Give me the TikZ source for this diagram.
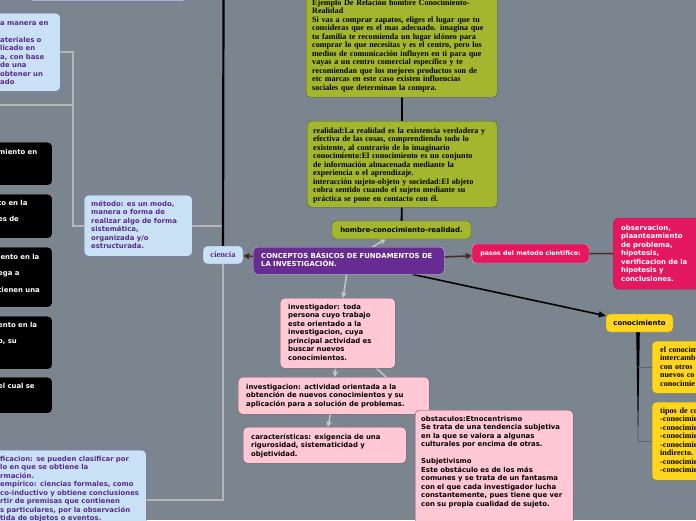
\documentclass[tikz,border=0pt]{standalone}
\usepackage{fontspec}
\setmainfont{Liberation Serif}
\setsansfont{DejaVu Sans}
\usetikzlibrary{arrows.meta}
\usepackage{xcolor}
\definecolor{slate}{HTML}{7A8590}
\definecolor{sky}{HTML}{C8E1F4}
\definecolor{lilacedge}{HTML}{8060B0}
\definecolor{grape}{HTML}{5E2A8C}
\definecolor{plum}{HTML}{672C91}
\definecolor{plumedge}{HTML}{C9B6E4}
\definecolor{moss}{HTML}{A3B62E}
\definecolor{mossedge}{HTML}{55621A}
\definecolor{berry}{HTML}{E3185E}
\definecolor{berryedge}{HTML}{F7A9C5}
\definecolor{blush}{HTML}{FFC8D4}
\definecolor{blushedge}{HTML}{6E4C55}
\definecolor{gold}{HTML}{FFD51E}
\definecolor{goldedge}{HTML}{A68A10}
\definecolor{treegray}{HTML}{B3B7BA}
\definecolor{arrowgray}{HTML}{C4C8CB}
\definecolor{umber}{HTML}{4A2A22}
\definecolor{twig}{HTML}{5B6570}
\newcommand\sanstext{\sffamily\bfseries\fontsize{6.9}{8.5}\selectfont}
\newcommand\sanswide{\sffamily\bfseries\fontsize{6.9}{16.7}\selectfont}
\newcommand\seriftext{\rmfamily\bfseries\fontsize{8.1}{8.5}\selectfont}
\pgfdeclarelayer{back}
\pgfsetlayers{back,main}

\begin{document}
\begin{tikzpicture}[x=1pt, y=-1pt,
    every node/.style={inner ysep=0pt, align=left},
    lightbox/.style={draw=lilacedge, fill=sky, rounded corners=4pt, text=grape, font=\sanstext},
    darkbox/.style={draw=gray!70, fill=black, rounded corners=4pt, text=white, font=\sanswide},
    olivebox/.style={draw=mossedge, fill=moss, rounded corners=4pt, font=\seriftext},
    pinkbox/.style={draw=blushedge, fill=blush, rounded corners=4pt, font=\sanstext},
    yellowbox/.style={draw=goldedge, fill=gold, rounded corners=4pt, font=\seriftext},
    treeline/.style={draw=treegray, line width=1.6pt},
    greyarrow/.style={draw=arrowgray, line width=1.4pt, -{Stealth[length=6pt,width=6pt]}},
    brownarrow/.style={draw=umber, line width=1.5pt, -{Triangle[length=6pt,width=6pt]}}]
  \useasboundingbox (0,0) rectangle (696,520);
  \begin{pgfonlayer}{back}
    \fill[slate] (0,0) rectangle (696,520);
  \end{pgfonlayer}

  % ciencia branch
  \node[lightbox, anchor=south west, minimum width=159pt, minimum height=14pt] (topbox) at (28,1) {};
  \node[lightbox, anchor=north west, inner xsep=4pt, text width=56pt, text height=12pt, text depth=66pt] (tecnica) at (-4,13) {a manera en\\\mbox{}\\ateriales o\\licado en\\a, con base\\de una\\obtener un\\ado};
  \node[darkbox, anchor=north west, inner xsep=4pt, text width=50pt, text height=12pt, text depth=31pt] (blka) at (-6,142) {miento en};
  \node[darkbox, anchor=north west, inner xsep=4pt, text width=50pt, text height=11pt, text depth=33pt] (blkb) at (-6,194) {to en la\\es de};
  \node[darkbox, anchor=north west, inner xsep=4pt, text width=50pt, text height=12pt, text depth=48pt] (blkc) at (-6,247) {iento en la\\ega a\\tienen una};
  \node[darkbox, anchor=north west, inner xsep=4pt, text width=50pt, text height=11pt, text depth=42pt] (blkd) at (-6,316) {ento en la\\o, su};
  \node[darkbox, anchor=north west, inner xsep=4pt, text width=50pt, text height=11pt, text depth=25pt] (blke) at (-6,377) {el cual se};
  \node[lightbox, anchor=north west, inner xsep=7pt, text width=94pt, text height=11pt, text depth=50pt] (metodo) at (84,195) {método: es un modo,\\manera o forma de\\realizar algo de forma\\sistemática,\\organizada y/o\\estructurada.};
  \node[lightbox, anchor=north west, inner xsep=4pt, text width=142pt, text height=11pt, text depth=89pt] (clasif) at (-4,450) {ficacion: se pueden clasificar por\\lo en que se obtiene la\\rmación.\\empírico: ciencias formales, como\\co-inductivo y obtiene conclusiones\\rtir de premisas que contienen\\s particulares, por la observación\\tida de objetos o eventos.};
  \node[lightbox, font=\rmfamily\bfseries\fontsize{8.5}{10}\selectfont, align=center, minimum width=40pt, minimum height=18pt] (ciencia) at (223,255) {ciencia};

  % centre
  \node[draw=plumedge, fill=plum, rounded corners=4pt, text=white, font=\sanstext, anchor=north west, inner xsep=8pt, text width=175pt, text height=11pt, text depth=16pt] (central) at (253,247) {CONCEPTOS BÁSICOS DE FUNDAMENTOS DE\\LA INVESTIGACIÓN.};

  % hombre-conocimiento-realidad
  \node[olivebox, font=\sanstext, align=center, minimum width=139pt, minimum height=18pt] (hombre) at (401.5,230) {hombre-conocimiento-realidad.};
  \node[olivebox, anchor=north west, inner xsep=6pt, text width=178pt, text height=12pt, text depth=74pt] (realidad) at (307,121) {realidad:La realidad es la existencia verdadera y\\efectiva de las cosas, comprendiendo todo lo\\existente, al contrario de lo imaginario\\conocimiento:El conocimiento es un conjunto\\de información almacenada mediante la\\experiencia o el aprendizaje.\\interacción sujeto-objeto y sociedad:El objeto\\cobra sentido cuando el sujeto mediante su\\práctica se pone en contacto con él.};
  \node[olivebox, anchor=north west, inner xsep=6pt, text width=179pt, text height=12pt, text depth=92pt] (ejemplo) at (306,-7) {Ejemplo De Relación hombre Conocimiento-\\Realidad\\Si vas a comprar zapatos, eliges el lugar que tu\\consideras que es el mas adecuado. imagina que\\tu familia te recomienda un lugar idóneo para\\comprar lo que  necesitas y es el centro, pero los\\medios de comunicación influyen en ti para que\\vayas a un centro comercial específico y te\\recomiendan que los mejores productos son de\\etc marcas en este caso existen influencias\\sociales que determinan la compra.};

  % metodo cientifico
  \node[draw=berryedge, fill=berry, rounded corners=4pt, text=white, font=\sffamily\bfseries\fontsize{6.3}{8}\selectfont, align=center, minimum width=117pt, minimum height=19pt] (pasos) at (530.5,253.5) {pasos del metodo cientifico:};
  \node[draw=berry!80!black, fill=berry, rounded corners=6pt, text=white, font=\sanstext, anchor=north west, inner xsep=8pt, text width=70pt, text height=12pt, text depth=59pt] (observ) at (613,218) {observacion,\\plaanteamiento\\de problema,\\hipotesis,\\verificacion de la\\hipotesis y\\conclusiones.};

  % conocimiento
  \node[yellowbox, font=\sanstext, align=center, minimum width=67pt, minimum height=18pt] (conoc) at (639.5,323) {conocimiento};
  \node[yellowbox, anchor=north west, inner xsep=8pt, text width=60pt, text height=11pt, text depth=41pt] (saberA) at (652,341) {el conocim\\intercamb\\con otros\\nuevos co\\conocimie};
  \node[yellowbox, anchor=north west, inner xsep=8pt, text width=60pt, text height=11pt, text depth=67pt] (saberB) at (652,402) {tipos de co\\-conocimie\\-conocimie\\-conocimie\\-conocimie\\indirecto.\\-conocimie\\-conocimie};

  % investigacion
  \node[pinkbox, anchor=north west, inner xsep=8pt, text width=99pt, text height=11pt, text depth=59pt] (investigador) at (280,298) {investigador: toda\\persona cuyo trabajo\\este orientado a la\\investigacion, cuya\\principal actividad es\\buscar nuevos\\conocimientos.};
  \node[pinkbox, anchor=north west, inner xsep=8pt, text width=175pt, text height=12pt, text depth=25pt] (investigacion) at (238,377) {investigacion: actividad orientada a la\\obtención de nuevos conocimientos y su\\aplicación para a solución de problemas.};
  \node[pinkbox, anchor=north west, inner xsep=8pt, text width=147pt, text height=12pt, text depth=24pt] (caracteristicas) at (243,427) {características: exigencia de una\\rigurosidad, sistematicidad y\\objetividad.};
  \node[pinkbox, anchor=north west, inner xsep=6pt, text width=146pt, text height=11pt, text depth=119pt] (obstaculos) at (415,410) {obstaculos:Etnocentrismo\\Se trata de una tendencia subjetiva\\en la que se valora a algunas\\culturales por encima de otras.\\\mbox{}\\Subjetivismo\\Este obstáculo es de los más\\comunes y se trata de un fantasma\\con el que cada investigador lucha\\constantemente, pues tiene que ver\\con su propia cualidad de sujeto.};

  \coordinate (fork) at (73,226);
  \coordinate (offedge) at (-2,105);
  \coordinate (upper) at (223.5,-4);
  \coordinate (kfoot) at (638,441);

  \begin{pgfonlayer}{back}
    \draw[treeline] (ciencia.center) |- (fork) |- (tecnica.east);
    \draw[treeline] (fork |- offedge) -- (offedge);
    \draw[treeline] (ciencia.center) |- (clasif.east);
    \draw[line width=2.2pt] (ciencia) -- (upper);
    \draw[brownarrow] (central) -- (ciencia);
    \draw[brownarrow] (central) -- (pasos);
    \draw[draw=umber, line width=1.5pt] (pasos) -- (observ);
    \draw[line width=1.6pt, -{Triangle[length=7pt,width=6pt]}] (central) -- (conoc);
    \draw[line width=1.8pt] (ejemplo) -- (realidad);
    \draw[line width=1.8pt] (realidad) -- (hombre);
    \draw[greyarrow] (central) -- (hombre);
    \draw[greyarrow] (central) -- (investigador);
    \draw[greyarrow] (investigador) -- (investigacion);
    \draw[greyarrow] (investigador) -- (obstaculos);
    \draw[greyarrow] (investigacion) -- (caracteristicas);
    \fill (kfoot |- conoc.south) ++(-1.8,0) -- ++(3.6,0) -- (kfoot) -- cycle;
    \draw[draw=twig, line width=1.4pt] (kfoot |- saberA.west) -- (saberA.west);
    \draw[draw=twig, line width=1.4pt] (kfoot |- saberB.west) -- (saberB.west);
  \end{pgfonlayer}
\end{tikzpicture}
\end{document}
